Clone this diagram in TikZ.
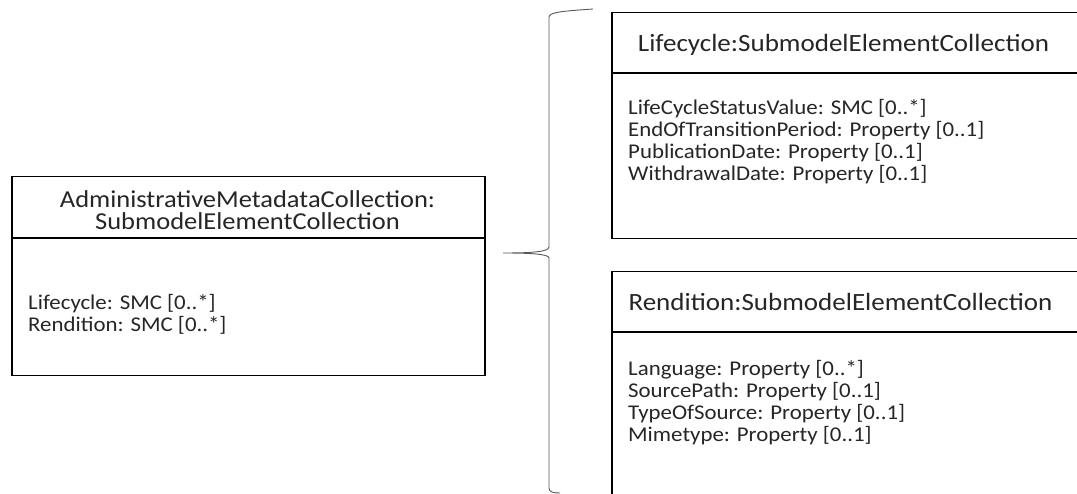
\documentclass[tikz,border=0pt]{standalone}
\usepackage{fontspec}
\setmainfont{Carlito}[FakeStretch=1.09]
\begin{document}
\begin{tikzpicture}[x=1pt,y=1pt,
  box/.style={draw=black, line width=1.5pt, inner sep=0pt, minimum width=#1},
  divider/.style={draw=black, line width=1.5pt},
  txt/.style={text=black!85, font=\fontsize{20.97}{22.3}\selectfont, inner sep=0pt, align=left},
  ttl/.style={text=black!85, font=\fontsize{24.8}{22.5}\selectfont, inner sep=0pt, align=center},
  bigttl/.style={ttl, font=\fontsize{24.3}{22.5}\selectfont},
  bracestyle/.style={draw=black!65, line width=0.9pt}]
\clip (0,0) rectangle (1077,493);
\fill[white] (0,0) rectangle (1077,493);

% left box
\node[box=473pt, minimum height=199pt, anchor=north west] (adm) at (11,317) {};
\coordinate (admdivL) at (11,255);
\coordinate (admdivR) at (484,255);
\draw[divider] (admdivL) -- (admdivR);
\node[bigttl, anchor=base] (admt) at (247.5,263) {AdministrativeMetadataCollection:\\SubmodelElementCollection};
\node[txt, anchor=base west] (admb) at (28,161) {Lifecycle: SMC [0..*]\\Rendition: SMC [0..*]};

% lifecycle box
\node[box=480pt, minimum height=226pt, anchor=north west] (lc) at (611,481) {};
\coordinate (lcdivL) at (611,420);
\coordinate (lcdivR) at (1091,420);
\draw[divider] (lcdivL) -- (lcdivR);
\node[ttl, anchor=base] (lct) at (843.5,441) {Lifecycle:SubmodelElementCollection};
\node[txt, anchor=base west] (lcb) at (628,312) {LifeCycleStatusValue: SMC [0..*]\\EndOfTransitionPeriod: Property [0..1]\\PublicationDate: Property [0..1]\\WithdrawalDate: Property [0..1]};

% rendition box
\node[box=480pt, minimum height=240pt, anchor=north west] (rd) at (611,222) {};
\coordinate (rddivL) at (611,161);
\coordinate (rddivR) at (1091,161);
\draw[divider] (rddivL) -- (rddivR);
\node[ttl, anchor=base] (rdt) at (840.5,182) {Rendition:SubmodelElementCollection};
\node[txt, anchor=base west] (rdb) at (628,51) {Language: Property [0..*]\\SourcePath: Property [0..1]\\TypeOfSource: Property [0..1]\\Mimetype: Property [0..1]};

% brace
\coordinate (btop) at (593,484);
\coordinate (bu1) at (549,476);
\coordinate (bu2) at (549,246);
\coordinate (tip) at (503,240);
\coordinate (bl1) at (549,235);
\coordinate (bl2) at (549,5);
\coordinate (bbot) at (560,0);
\draw[bracestyle] (btop) .. controls (565,482) and (549,481) .. (bu1) -- (bu2)
  .. controls (549,241) and (530,240) .. (tip)
  .. controls (530,240) and (549,239) .. (bl1) -- (bl2)
  .. controls (549,1) and (553,0) .. (bbot);
\end{tikzpicture}
\end{document}
